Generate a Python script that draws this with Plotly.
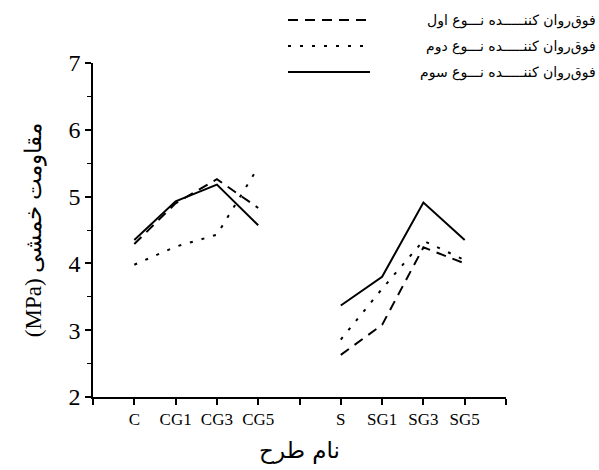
import plotly.graph_objects as go

# ---- data ----
categories = ["C", "CG1", "CG3", "CG5", "S", "SG1", "SG3", "SG5"]
cat_pos = [1, 2, 3, 4, 6, 7, 8, 9]
tick_positions = [0, 1, 2, 3, 4, 5, 6, 7, 8, 9, 10]
tick_labels = ["", "C", "CG1", "CG3", "CG5", "", "S", "SG1", "SG3", "SG5", ""]

type1 = [4.29, 4.90, 5.26, 4.83, 2.63, 3.08, 4.24, 4.00]   # dashed
type2 = [3.98, 4.25, 4.43, 5.44, 2.86, 3.62, 4.34, 4.05]   # dotted
type3 = [4.35, 4.93, 5.18, 4.57, 3.37, 3.80, 4.91, 4.35]   # solid

series_names = [
    "فوق‌روان کننـــــده نـــوع اول",
    "فوق‌روان کننـــــده نـــوع دوم",
    "فوق‌روان کننـــــده نـــوع سوم",
]
series_vals = [type1, type2, type3]
dashes = ["10px,7px", "3px,9px", "solid"]

y_title = "(MPa) مقاومت خمشی"
x_title = "نام طرح"

fig = go.Figure()
for name, vals, dash in zip(series_names, series_vals, dashes):
    for grp in (slice(0, 4), slice(4, 8)):
        fig.add_trace(go.Scatter(
            x=cat_pos[grp], y=vals[grp], mode="lines",
            line=dict(color="black", width=2, dash=dash),
            showlegend=False, name=name, hoverinfo="skip"))

serif = "Liberation Serif, Times New Roman, serif"
fa_font = "DejaVu Sans, Noto Sans, sans-serif"

# legend built from shapes + annotations (sample on the left, text on the right)
legend_rows_y = [20, 46, 72]        # pixel y from top
W, H = 599, 470
L, R, T, B = 93, 93, 63, 73
pw, ph = W - L - R, H - T - B
def px2x(px): return (px - L) / pw
def px2y(py): return 1 - (py - T) / ph

for name, dash, py in zip(series_names, dashes, legend_rows_y):
    fig.add_shape(type="line", xref="paper", yref="paper",
                  x0=px2x(288), x1=px2x(370), y0=px2y(py), y1=px2y(py),
                  line=dict(color="black", width=2, dash=dash))
    fig.add_annotation(xref="paper", yref="paper", x=px2x(598), y=px2y(py),
                       text=name, showarrow=False, xanchor="right", yanchor="middle",
                       font=dict(family=fa_font, size=14, color="black"))

fig.update_layout(
    width=W, height=H,
    margin=dict(l=L, r=R, t=T, b=B, pad=0),
    plot_bgcolor="white", paper_bgcolor="white",
    font=dict(family=serif, color="black"),
    xaxis=dict(range=[0, 10], tickvals=tick_positions, ticktext=tick_labels,
               showgrid=False, zeroline=False, showline=True, linecolor="black",
               linewidth=1.5, ticks="outside", ticklen=6, tickwidth=1.5,
               tickcolor="black", tickfont=dict(family=serif, size=17),
               title=dict(text=x_title, font=dict(family=fa_font, size=23), standoff=14)),
    yaxis=dict(range=[2, 7], tickvals=[2, 3, 4, 5, 6, 7],
               showgrid=False, zeroline=False, showline=True, linecolor="black",
               linewidth=1.5, ticks="outside", ticklen=6, tickwidth=1.5,
               tickcolor="black", tickfont=dict(family=serif, size=24),
               minor=dict(tickvals=[2.5, 3.5, 4.5, 5.5, 6.5], ticks="outside",
                          ticklen=4, tickwidth=1, tickcolor="black"),
               title=dict(text=y_title, font=dict(family=serif, size=23), standoff=20)),
)

fig.write_html("out.html")
